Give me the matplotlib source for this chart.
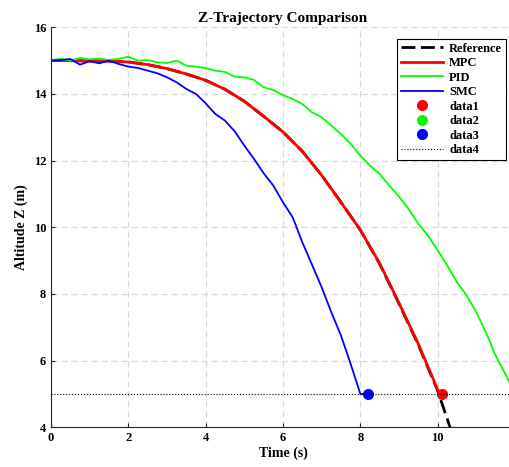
import matplotlib.pyplot as plt
import numpy as np

# ---------------- data ----------------
t_mpc = [0, 0.5, 1, 1.5, 2, 2.5, 3, 3.5, 4, 4.5, 5, 5.5, 6, 6.5, 7, 7.5,
         8, 8.5, 9, 9.5, 10, 10.1]
z_mpc = [15.0, 15.0, 14.99, 14.98, 14.96, 14.88, 14.76, 14.6, 14.41, 14.14,
         13.78, 13.33, 12.86, 12.28, 11.56, 10.75, 9.92, 8.92, 7.73, 6.5,
         5.13, 5.0]

t_ref = [0, 0.5, 1, 1.5, 2, 2.5, 3, 3.5, 4, 4.5, 5, 5.5, 6, 6.5, 7, 7.5,
         8, 8.5, 9, 9.5, 10, 10.32]
z_ref = [15.0, 15.0, 14.99, 14.98, 14.96, 14.88, 14.76, 14.6, 14.41, 14.14,
         13.78, 13.33, 12.86, 12.28, 11.56, 10.75, 9.92, 8.9, 7.71, 6.47,
         5.1, 4.0]

t_pid = [0, 0.25, 0.5, 0.75, 1, 1.25, 1.5, 1.75, 2, 2.25, 2.5, 2.75, 3,
         3.25, 3.5, 3.75, 4, 4.25, 4.5, 4.75, 5, 5.25, 5.5, 5.75, 6, 6.25,
         6.5, 6.75, 7, 7.25, 7.5, 7.75, 8, 8.25, 8.5, 8.75, 9, 9.25, 9.5,
         9.75, 10, 10.25, 10.5, 10.75, 11, 11.25, 11.5, 11.75, 12]
z_pid = [15.02, 15.05, 15.0, 15.08, 15.04, 15.06, 15.02, 15.05, 15.12,
         15.0, 15.02, 14.95, 14.93, 15.0, 14.85, 14.82, 14.78, 14.7, 14.66,
         14.52, 14.5, 14.42, 14.2, 14.12, 13.96, 13.85, 13.7, 13.45, 13.3,
         13.05, 12.8, 12.5, 12.15, 11.85, 11.6, 11.25, 10.92, 10.55, 10.1,
         9.75, 9.31, 8.85, 8.35, 7.95, 7.45, 6.85, 6.15, 5.6, 5.0]

t_smc = [0, 0.25, 0.5, 0.75, 1, 1.25, 1.5, 1.75, 2, 2.25, 2.5, 2.75, 3,
         3.25, 3.5, 3.75, 4, 4.25, 4.5, 4.75, 5, 5.25, 5.5, 5.75, 6, 6.25,
         6.5, 6.75, 7, 7.25, 7.5, 7.75, 8, 8.2]
z_smc = [15.0, 15.02, 15.05, 14.88, 14.98, 14.92, 15.0, 14.9, 14.82, 14.78,
         14.7, 14.62, 14.5, 14.35, 14.15, 14.0, 13.72, 13.4, 13.2, 12.88,
         12.45, 12.05, 11.62, 11.25, 10.75, 10.3, 9.55, 8.88, 8.2, 7.45,
         6.75, 5.9, 5.0, 5.0]

# end points (data1..data3) and target altitude (data4)
end_t = [10.1, 12.05, 8.2]
end_z = [5.0, 5.0, 5.0]
z_target = 5.0

plt.rcParams['font.family'] = ['Liberation Serif', 'DejaVu Serif']
plt.rcParams['font.weight'] = 'bold'

fig = plt.figure(figsize=(5.09, 4.67), dpi=100)
ax = fig.add_axes([51/509, 1 - 427.3/467, 464/509, 400/467])

ax.plot(t_ref, z_ref, color='k', linewidth=2, dashes=(5, 2),
        label='Reference')
ax.plot(t_mpc, z_mpc, color=(1, 0, 0), linewidth=2.0, label='MPC')
ax.plot(t_pid, z_pid, color=(0, 1, 0), linewidth=1.3, label='PID')
ax.plot(t_smc, z_smc, color=(0, 0, 1), linewidth=1.3, label='SMC')

cols = [(1, 0, 0), (0, 1, 0), (0, 0, 1)]
for i in range(3):
    ax.plot(end_t[i], end_z[i], 'o', color=cols[i], markersize=7,
            label='data%d' % (i + 1))
ax.axhline(z_target, color='k', linestyle=':', linewidth=0.8, label='data4')

ax.set_xlim(0, 12)
ax.set_ylim(4, 16)
ax.set_xticks(np.arange(0, 11, 2))
ax.set_yticks(np.arange(4, 17, 2))
ax.grid(True, color=(0.85, 0.85, 0.85), linestyle=(0, (5, 3)), linewidth=0.9)
ax.axvline(12, color=(0.85, 0.85, 0.85), linestyle=(0, (5, 3)), linewidth=0.9,
           zorder=0)
ax.set_axisbelow(True)
ax.tick_params(direction='in', length=3, labelsize=9, colors=(0.15, 0.15, 0.15))
for lab in ax.get_xticklabels() + ax.get_yticklabels():
    lab.set_fontweight('bold')
    lab.set_color('k')
ax.spines['top'].set_visible(False)
ax.spines['right'].set_visible(False)
for s in ['left', 'bottom']:
    ax.spines[s].set_color((0.15, 0.15, 0.15))
    ax.spines[s].set_linewidth(0.8)

ax.set_xlabel('Time (s)', fontsize=10, fontweight='bold', labelpad=2)
ax.set_ylabel('Altitude Z (m)', fontsize=10, fontweight='bold', labelpad=4)
ax.set_title('Z-Trajectory Comparison', fontsize=11, fontweight='bold', pad=4)

leg = ax.legend(loc='upper right', bbox_to_anchor=(506/509, 1 - 39/467),
                bbox_transform=fig.transFigure, borderaxespad=0,
                fontsize=9, fancybox=False, framealpha=1, edgecolor='k',
                handlelength=3.4, labelspacing=0.2, borderpad=0.3,
                handletextpad=0.5)
leg.get_frame().set_linewidth(0.8)
for txt in leg.get_texts():
    txt.set_fontweight('bold')

fig.savefig('out.png', dpi=100)
